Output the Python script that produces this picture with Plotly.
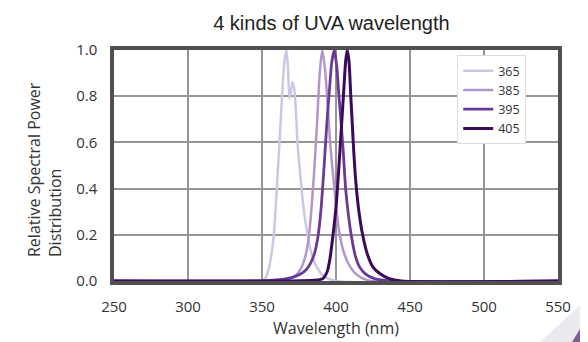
import plotly.graph_objects as go

# Spectral data
wl_365 = [250, 349, 352, 354, 356, 358, 360, 362, 364, 365.5, 366.5, 367.5, 368.5, 369.5, 370.5, 371.5,
          372.5, 374, 376, 378, 380, 383, 387, 392, 400, 550]
val_365 = [0, 0, 0.01, 0.04, 0.1, 0.2, 0.4, 0.62, 0.85, 0.97, 1.0, 0.93, 0.79, 0.82, 0.86, 0.84,
           0.78, 0.6, 0.45, 0.32, 0.23, 0.13, 0.06, 0.02, 0, 0]

wl_385 = [250, 355, 365, 372, 376, 379, 381, 383, 385, 387, 389, 390.7, 392.5, 394, 396, 398,
          400, 402, 405, 408, 412, 417, 424, 550]
val_385 = [0, 0, 0.005, 0.02, 0.05, 0.1, 0.16, 0.28, 0.45, 0.66, 0.9, 1.0, 0.92, 0.8, 0.6, 0.46,
           0.33, 0.22, 0.13, 0.08, 0.04, 0.015, 0, 0]

wl_395 = [250, 345, 360, 370, 376, 380, 383, 385.5, 388, 390, 392, 394, 395.5, 397, 398.8, 400.5,
          402, 403.5, 405, 406.5, 408.5, 410.5, 413, 416, 420, 426, 437, 550]
val_395 = [0, 0, 0.005, 0.015, 0.03, 0.05, 0.08, 0.12, 0.2, 0.32, 0.5, 0.7, 0.82, 0.94, 1.0, 0.93,
           0.8, 0.68, 0.55, 0.4, 0.28, 0.19, 0.11, 0.06, 0.03, 0.01, 0, 0]

wl_405 = [250, 370, 385, 391, 394, 396, 398, 400, 401.5, 403, 405, 406.5, 407.6, 408.8, 410, 411,
          412, 413.5, 415.5, 418, 421, 425, 430, 436, 444, 550]
val_405 = [0, 0, 0.003, 0.01, 0.04, 0.1, 0.2, 0.32, 0.45, 0.6, 0.8, 0.95, 1.0, 0.95, 0.8, 0.68,
           0.56, 0.42, 0.3, 0.2, 0.12, 0.06, 0.03, 0.01, 0, 0]

series = [
    ("365", wl_365, val_365, "#cbc8e4", 2.5),
    ("385", wl_385, val_385, "#b296cb", 2.5),
    ("395", wl_395, val_395, "#6a3a98", 2.8),
    ("405", wl_405, val_405, "#3c0a5c", 3),
]

x_ticks = [250, 300, 350, 400, 450, 500, 550]
y_ticks = [0.0, 0.2, 0.4, 0.6, 0.8, 1.0]

fig = go.Figure()
for name, xs, ys, color, w in series:
    fig.add_trace(go.Scatter(
        x=xs, y=ys, name=name, mode="lines",
        line=dict(color=color, width=w, shape="spline", smoothing=0.6),
    ))

# page body has an 8px margin; plot area on screen: x 114..558, y 50..281
def px(x, y):
    return (x - 114) / 444, (281 - y) / 231

x0, y0 = px(540, 342)
x1, y1 = px(588, 298)
x2, y2 = px(572, 342)
x3, y3 = px(588, 316)
fig.add_shape(type="path", xref="paper", yref="paper", layer="below",
              path=f"M {x0} {y0} L {x1} {y1} L {x1} {y0} Z",
              fillcolor="#ebe8f0", line=dict(width=0))
fig.add_shape(type="path", xref="paper", yref="paper", layer="below",
              path=f"M {x2} {y2} L {x3} {y3} L {x3} {y2} Z",
              fillcolor="#7d5e93", line=dict(width=0))

ax, ay = px(44, 170)
fig.add_annotation(
    text="Relative Spectral Power<br>Distribution", textangle=-90, align="left",
    xref="paper", yref="paper", x=ax, y=ay, xanchor="center", yanchor="middle",
    showarrow=False, font=dict(family="Open Sans, Noto Sans", size=16, color="#333"),
)

fig.update_layout(
    width=588, height=342,
    margin=dict(l=106, r=38, t=42, b=69),
    paper_bgcolor="white", plot_bgcolor="white",
    title=dict(text="4 kinds of UVA wavelength", x=0.55, xanchor="center", y=0.955, yanchor="middle",
               font=dict(family="Liberation Sans, Arial", size=20, color="#222")),
    font=dict(family="Open Sans, Noto Sans", size=15, color="#333"),
    legend=dict(x=0.773, y=0.978, xanchor="left", yanchor="top",
                bgcolor="white", bordercolor="#dddddd", borderwidth=1,
                font=dict(size=12.5, color="#333"), tracegroupgap=0),
    showlegend=True,
)
fig.update_xaxes(
    range=[250, 550], tickvals=x_ticks, ticktext=[str(v) for v in x_ticks],
    showgrid=True, gridcolor="#959595", gridwidth=1.8,
    showline=True, linecolor="#505050", linewidth=3.5, mirror=True,
    ticks="", ticklabelstandoff=9,
    title=dict(text="Wavelength (nm)", standoff=9, font=dict(size=16)),
    zeroline=False,
)
fig.update_yaxes(
    range=[0, 1.0], tickvals=y_ticks, ticktext=[f"{v:.1f}" for v in y_ticks],
    showgrid=True, gridcolor="#959595", gridwidth=1.8,
    showline=True, linecolor="#505050", linewidth=3.5, mirror=True,
    ticks="", ticklabelstandoff=10,
    zeroline=False,
)

fig.write_html("out.html")
